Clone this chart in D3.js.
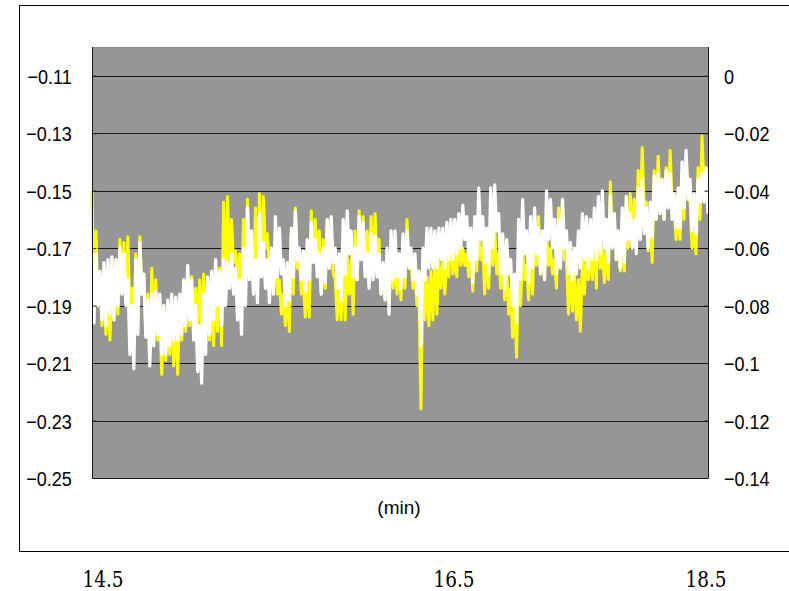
<!DOCTYPE html>
<html>
<head>
<meta charset="utf-8">
<script src="https://cdn.jsdelivr.net/npm/d3@7"></script>
<style>
  html, body { margin: 0; padding: 0; background: #ffffff; }
  svg { display: block; }
  .serif-label { font-family: "DejaVu Serif", "Liberation Serif", serif; }
</style>
</head>
<body>
<svg id="chart" width="789" height="591"></svg>
<script>
// ---------- data ----------
// time axis (min): samples are evenly spaced from xStart to xEnd
const xStart = 14.5;
const xEnd = 18.5;

// yellow series (left axis) - dense noisy signal, successive samples swing high/low
const yellowValues = [
  -0.150,-0.188, -0.164,-0.190, -0.181,-0.197, -0.184,-0.200, -0.181,-0.202,
  -0.180,-0.195, -0.174,-0.193, -0.167,-0.186, -0.168,-0.188, -0.166,-0.190,
  -0.184,-0.200, -0.172,-0.195, -0.166,-0.186, -0.179,-0.200, -0.186,-0.207,
  -0.177,-0.197, -0.181,-0.202, -0.195,-0.214, -0.190,-0.209, -0.193,-0.207,
  -0.190,-0.211, -0.193,-0.214, -0.188,-0.202, -0.181,-0.199, -0.178,-0.197,
  -0.180,-0.199, -0.184,-0.199, -0.181,-0.197, -0.179,-0.195, -0.181,-0.202,
  -0.184,-0.204, -0.180,-0.199, -0.177,-0.204, -0.154,-0.184, -0.152,-0.180,
  -0.160,-0.175, -0.171,-0.181, -0.172,-0.186, -0.160,-0.181, -0.153,-0.177,
  -0.167,-0.186, -0.156,-0.184, -0.151,-0.174, -0.152,-0.170, -0.165,-0.178,
  -0.172,-0.181, -0.174,-0.186, -0.181,-0.193, -0.186,-0.197, -0.184,-0.199,
  -0.165,-0.186, -0.156,-0.177, -0.172,-0.186, -0.181,-0.194, -0.180,-0.194,
  -0.157,-0.174, -0.160,-0.174, -0.164,-0.186, -0.167,-0.184, -0.160,-0.177,
  -0.164,-0.179, -0.181,-0.195, -0.184,-0.195, -0.172,-0.195, -0.172,-0.186,
  -0.174,-0.193, -0.164,-0.181, -0.157,-0.174, -0.159,-0.176, -0.164,-0.180,
  -0.159,-0.179, -0.158,-0.176, -0.167,-0.186, -0.176,-0.188, -0.172,-0.186,
  -0.169,-0.184, -0.174,-0.186, -0.176,-0.188, -0.169,-0.184, -0.160,-0.176,
  -0.174,-0.184, -0.178,-0.190, -0.184,-0.226, -0.178,-0.195, -0.180,-0.197,
  -0.178,-0.195, -0.174,-0.193, -0.175,-0.184, -0.174,-0.186, -0.174,-0.180,
  -0.161,-0.179, -0.172,-0.180, -0.160,-0.176, -0.170,-0.176, -0.172,-0.180,
  -0.170,-0.185, -0.166,-0.178, -0.160,-0.174, -0.170,-0.186, -0.172,-0.184,
  -0.161,-0.176, -0.163,-0.179, -0.172,-0.184, -0.174,-0.188, -0.176,-0.193,
  -0.184,-0.201, -0.190,-0.208, -0.172,-0.190, -0.170,-0.181, -0.176,-0.188,
  -0.172,-0.186, -0.160,-0.176, -0.159,-0.179, -0.172,-0.181, -0.163,-0.176,
  -0.170,-0.179, -0.174,-0.184, -0.156,-0.176, -0.153,-0.174, -0.174,-0.193,
  -0.179,-0.192, -0.179,-0.195, -0.181,-0.199, -0.174,-0.186, -0.172,-0.181,
  -0.172,-0.181, -0.164,-0.184, -0.156,-0.177, -0.170,-0.182, -0.170,-0.181,
  -0.147,-0.165, -0.160,-0.172, -0.170,-0.178, -0.170,-0.178, -0.154,-0.170,
  -0.151,-0.165, -0.153,-0.165, -0.143,-0.160, -0.135,-0.156, -0.154,-0.171,
  -0.160,-0.175, -0.143,-0.160, -0.138,-0.154, -0.149,-0.160, -0.142,-0.156,
  -0.136,-0.153, -0.156,-0.167, -0.158,-0.167, -0.147,-0.160, -0.138,-0.152,
  -0.154,-0.170, -0.164,-0.172, -0.142,-0.160, -0.131,-0.149, -0.143,-0.156
];

// white series (right axis)
const whiteValues = [
  -0.062,-0.086, -0.062,-0.080, -0.068,-0.085, -0.065,-0.087, -0.064,-0.083,
  -0.063,-0.085, -0.064,-0.080, -0.060,-0.076, -0.062,-0.080, -0.071,-0.097,
  -0.080,-0.102, -0.064,-0.090, -0.058,-0.076, -0.069,-0.091, -0.078,-0.101,
  -0.076,-0.094, -0.075,-0.090, -0.076,-0.097, -0.080,-0.097, -0.078,-0.094,
  -0.076,-0.092, -0.077,-0.092, -0.076,-0.090, -0.071,-0.087, -0.066,-0.085,
  -0.071,-0.092, -0.080,-0.103, -0.087,-0.107, -0.076,-0.097, -0.070,-0.090,
  -0.068,-0.085, -0.064,-0.080, -0.068,-0.087, -0.064,-0.080, -0.065,-0.074,
  -0.062,-0.076, -0.067,-0.085, -0.071,-0.090, -0.060,-0.080, -0.046,-0.071,
  -0.054,-0.076, -0.064,-0.079, -0.048,-0.070, -0.058,-0.074, -0.064,-0.079,
  -0.060,-0.076, -0.049,-0.070, -0.053,-0.069, -0.064,-0.080, -0.065,-0.078,
  -0.053,-0.070, -0.047,-0.064, -0.060,-0.071, -0.061,-0.075, -0.057,-0.071,
  -0.051,-0.065, -0.057,-0.070, -0.062,-0.076, -0.060,-0.072, -0.050,-0.067,
  -0.049,-0.065, -0.060,-0.074, -0.062,-0.078, -0.050,-0.069, -0.047,-0.062,
  -0.054,-0.070, -0.060,-0.071, -0.049,-0.064, -0.051,-0.070, -0.062,-0.074,
  -0.055,-0.071, -0.056,-0.070, -0.062,-0.076, -0.065,-0.078, -0.060,-0.083,
  -0.054,-0.071, -0.054,-0.070, -0.062,-0.074, -0.055,-0.070, -0.054,-0.067,
  -0.060,-0.071, -0.062,-0.076, -0.068,-0.094, -0.060,-0.071, -0.053,-0.067,
  -0.053,-0.067, -0.054,-0.067, -0.053,-0.064, -0.053,-0.067, -0.051,-0.064,
  -0.050,-0.064, -0.050,-0.062, -0.048,-0.060, -0.045,-0.057, -0.049,-0.064,
  -0.053,-0.072, -0.049,-0.064, -0.039,-0.057, -0.049,-0.065, -0.053,-0.069,
  -0.039,-0.060, -0.038,-0.054, -0.048,-0.069, -0.055,-0.074, -0.057,-0.069,
  -0.064,-0.080, -0.069,-0.086, -0.050,-0.071, -0.043,-0.062, -0.054,-0.072,
  -0.049,-0.067, -0.046,-0.062, -0.053,-0.069, -0.054,-0.071, -0.040,-0.057,
  -0.043,-0.060, -0.050,-0.069, -0.050,-0.067, -0.043,-0.060, -0.054,-0.069,
  -0.058,-0.071, -0.060,-0.069, -0.054,-0.067, -0.048,-0.064, -0.049,-0.067,
  -0.050,-0.064, -0.046,-0.064, -0.042,-0.062, -0.040,-0.060, -0.050,-0.065,
  -0.042,-0.060, -0.048,-0.064, -0.054,-0.067, -0.046,-0.065, -0.042,-0.057,
  -0.048,-0.060, -0.050,-0.062, -0.039,-0.057, -0.036,-0.055, -0.046,-0.060,
  -0.044,-0.056, -0.035,-0.050, -0.034,-0.048, -0.036,-0.050, -0.033,-0.046,
  -0.034,-0.050, -0.041,-0.053, -0.039,-0.053, -0.030,-0.046, -0.026,-0.043,
  -0.036,-0.054, -0.041,-0.055, -0.036,-0.044, -0.034,-0.044, -0.032,-0.048
];

const leftTicks = [-0.25, -0.23, -0.21, -0.19, -0.17, -0.15, -0.13, -0.11];
const leftTickLabels = ["\u22120.25","\u22120.23","\u22120.21","\u22120.19","\u22120.17","\u22120.15","\u22120.13","\u22120.11"];
const rightTicks = [-0.14, -0.12, -0.10, -0.08, -0.06, -0.04, -0.02, 0];
const rightTickLabels = ["\u22120.14","\u22120.12","\u22120.1","\u22120.08","\u22120.06","\u22120.04","\u22120.02","0"];
const bottomTicks = [14.5, 16.5, 18.5];
const bottomTickLabels = ["14.5", "16.5", "18.5"];
const xAxisTitle = "(min)";

// ---------- layout ----------
const svg = d3.select("#chart");
const plot = { left: 92, right: 708, top: 47, bottom: 478 };

const x = d3.scaleLinear().domain([xStart, xEnd]).range([plot.left, plot.right]);
const yL = d3.scaleLinear().domain([-0.25, -0.10]).range([plot.bottom, plot.top]);
const yR = d3.scaleLinear().domain([-0.14, 0.01]).range([plot.bottom, plot.top]);
// the labels under the frame are not evenly spaced in the original
const xLab = d3.scaleLinear().domain([14.5, 16.5, 18.5]).range([103, 454, 706]);

const tOf = (n, i) => xStart + i * (xEnd - xStart) / (n - 1);

// outer frame
svg.append("rect")
  .attr("x", 19.5).attr("y", 5.5)
  .attr("width", 800).attr("height", 546)
  .attr("fill", "#ffffff").attr("stroke", "#000000").attr("stroke-width", 1);

// plot background
svg.append("rect")
  .attr("x", plot.left).attr("y", plot.top)
  .attr("width", plot.right - plot.left).attr("height", plot.bottom - plot.top)
  .attr("fill", "#969696");
svg.append("line")
  .attr("x1", plot.left).attr("x2", plot.right)
  .attr("y1", plot.top + 0.5).attr("y2", plot.top + 0.5)
  .attr("stroke", "#8a8a8a").attr("stroke-width", 1);

// gridlines
svg.append("g").selectAll("line").data(leftTicks).join("line")
  .attr("x1", plot.left).attr("x2", plot.right)
  .attr("y1", d => Math.round(yL(d)) + 0.5).attr("y2", d => Math.round(yL(d)) + 0.5)
  .attr("stroke", "#1a1a1a").attr("stroke-width", 1);

// series
const line = (ys, n) => d3.line()
  .x((d, i) => x(tOf(n, i)))
  .y(d => ys(d));

svg.append("path")
  .datum(yellowValues)
  .attr("d", line(yL, yellowValues.length))
  .attr("fill", "none").attr("stroke", "#ffff00")
  .attr("stroke-width", 3).attr("stroke-linejoin", "round");

svg.append("path")
  .datum(whiteValues)
  .attr("d", line(yR, whiteValues.length))
  .attr("fill", "none").attr("stroke", "#ffffff")
  .attr("stroke-width", 3.2).attr("stroke-linejoin", "round");

// axes
const fontSans = "'Liberation Sans', Arial, sans-serif";

const leftAxis = d3.axisLeft(yL).tickValues(leftTicks)
  .tickFormat((d, i) => leftTickLabels[i]).tickSize(4);
const gL = svg.append("g").attr("transform", `translate(${plot.left + 0.5},0)`).call(leftAxis);
gL.select(".domain").attr("d", `M0,${plot.top}V${plot.bottom}`).attr("stroke", "#1a1a1a");
gL.selectAll(".tick line").attr("x2", 4).attr("stroke", "#1a1a1a");
gL.selectAll(".tick text")
  .attr("x", -24).attr("dy", "0.36em")
  .attr("transform", "scale(0.86,1)")
  .style("font-family", fontSans).style("font-size", "21px").attr("fill", "#000");

const rightAxis = d3.axisRight(yR).tickValues(rightTicks)
  .tickFormat((d, i) => rightTickLabels[i]).tickSize(4);
const gR = svg.append("g").attr("transform", `translate(${plot.right + 0.5},0)`).call(rightAxis);
gR.select(".domain").attr("d", `M0,${plot.top}V${plot.bottom}`).attr("stroke", "#1a1a1a");
gR.selectAll(".tick line").attr("x2", -4).attr("stroke", "#1a1a1a");
gR.selectAll(".tick text")
  .attr("x", 18).attr("dy", "0.36em")
  .attr("transform", "scale(0.86,1)")
  .style("font-family", fontSans).style("font-size", "21px").attr("fill", "#000");

// x axis title
svg.append("text")
  .attr("x", 399).attr("y", 514)
  .attr("text-anchor", "middle")
  .style("font-family", fontSans).style("font-size", "19px")
  .text(xAxisTitle);

// bottom labels (narrowed to match the original's proportions)
svg.append("g").selectAll("text").data(bottomTicks).join("text")
  .attr("class", "serif-label")
  .attr("transform", d => `translate(${xLab(d)},587) scale(0.84,1)`)
  .attr("text-anchor", "middle")
  .style("font-size", "22px")
  .text((d, i) => bottomTickLabels[i]);
</script>
</body>
</html>
